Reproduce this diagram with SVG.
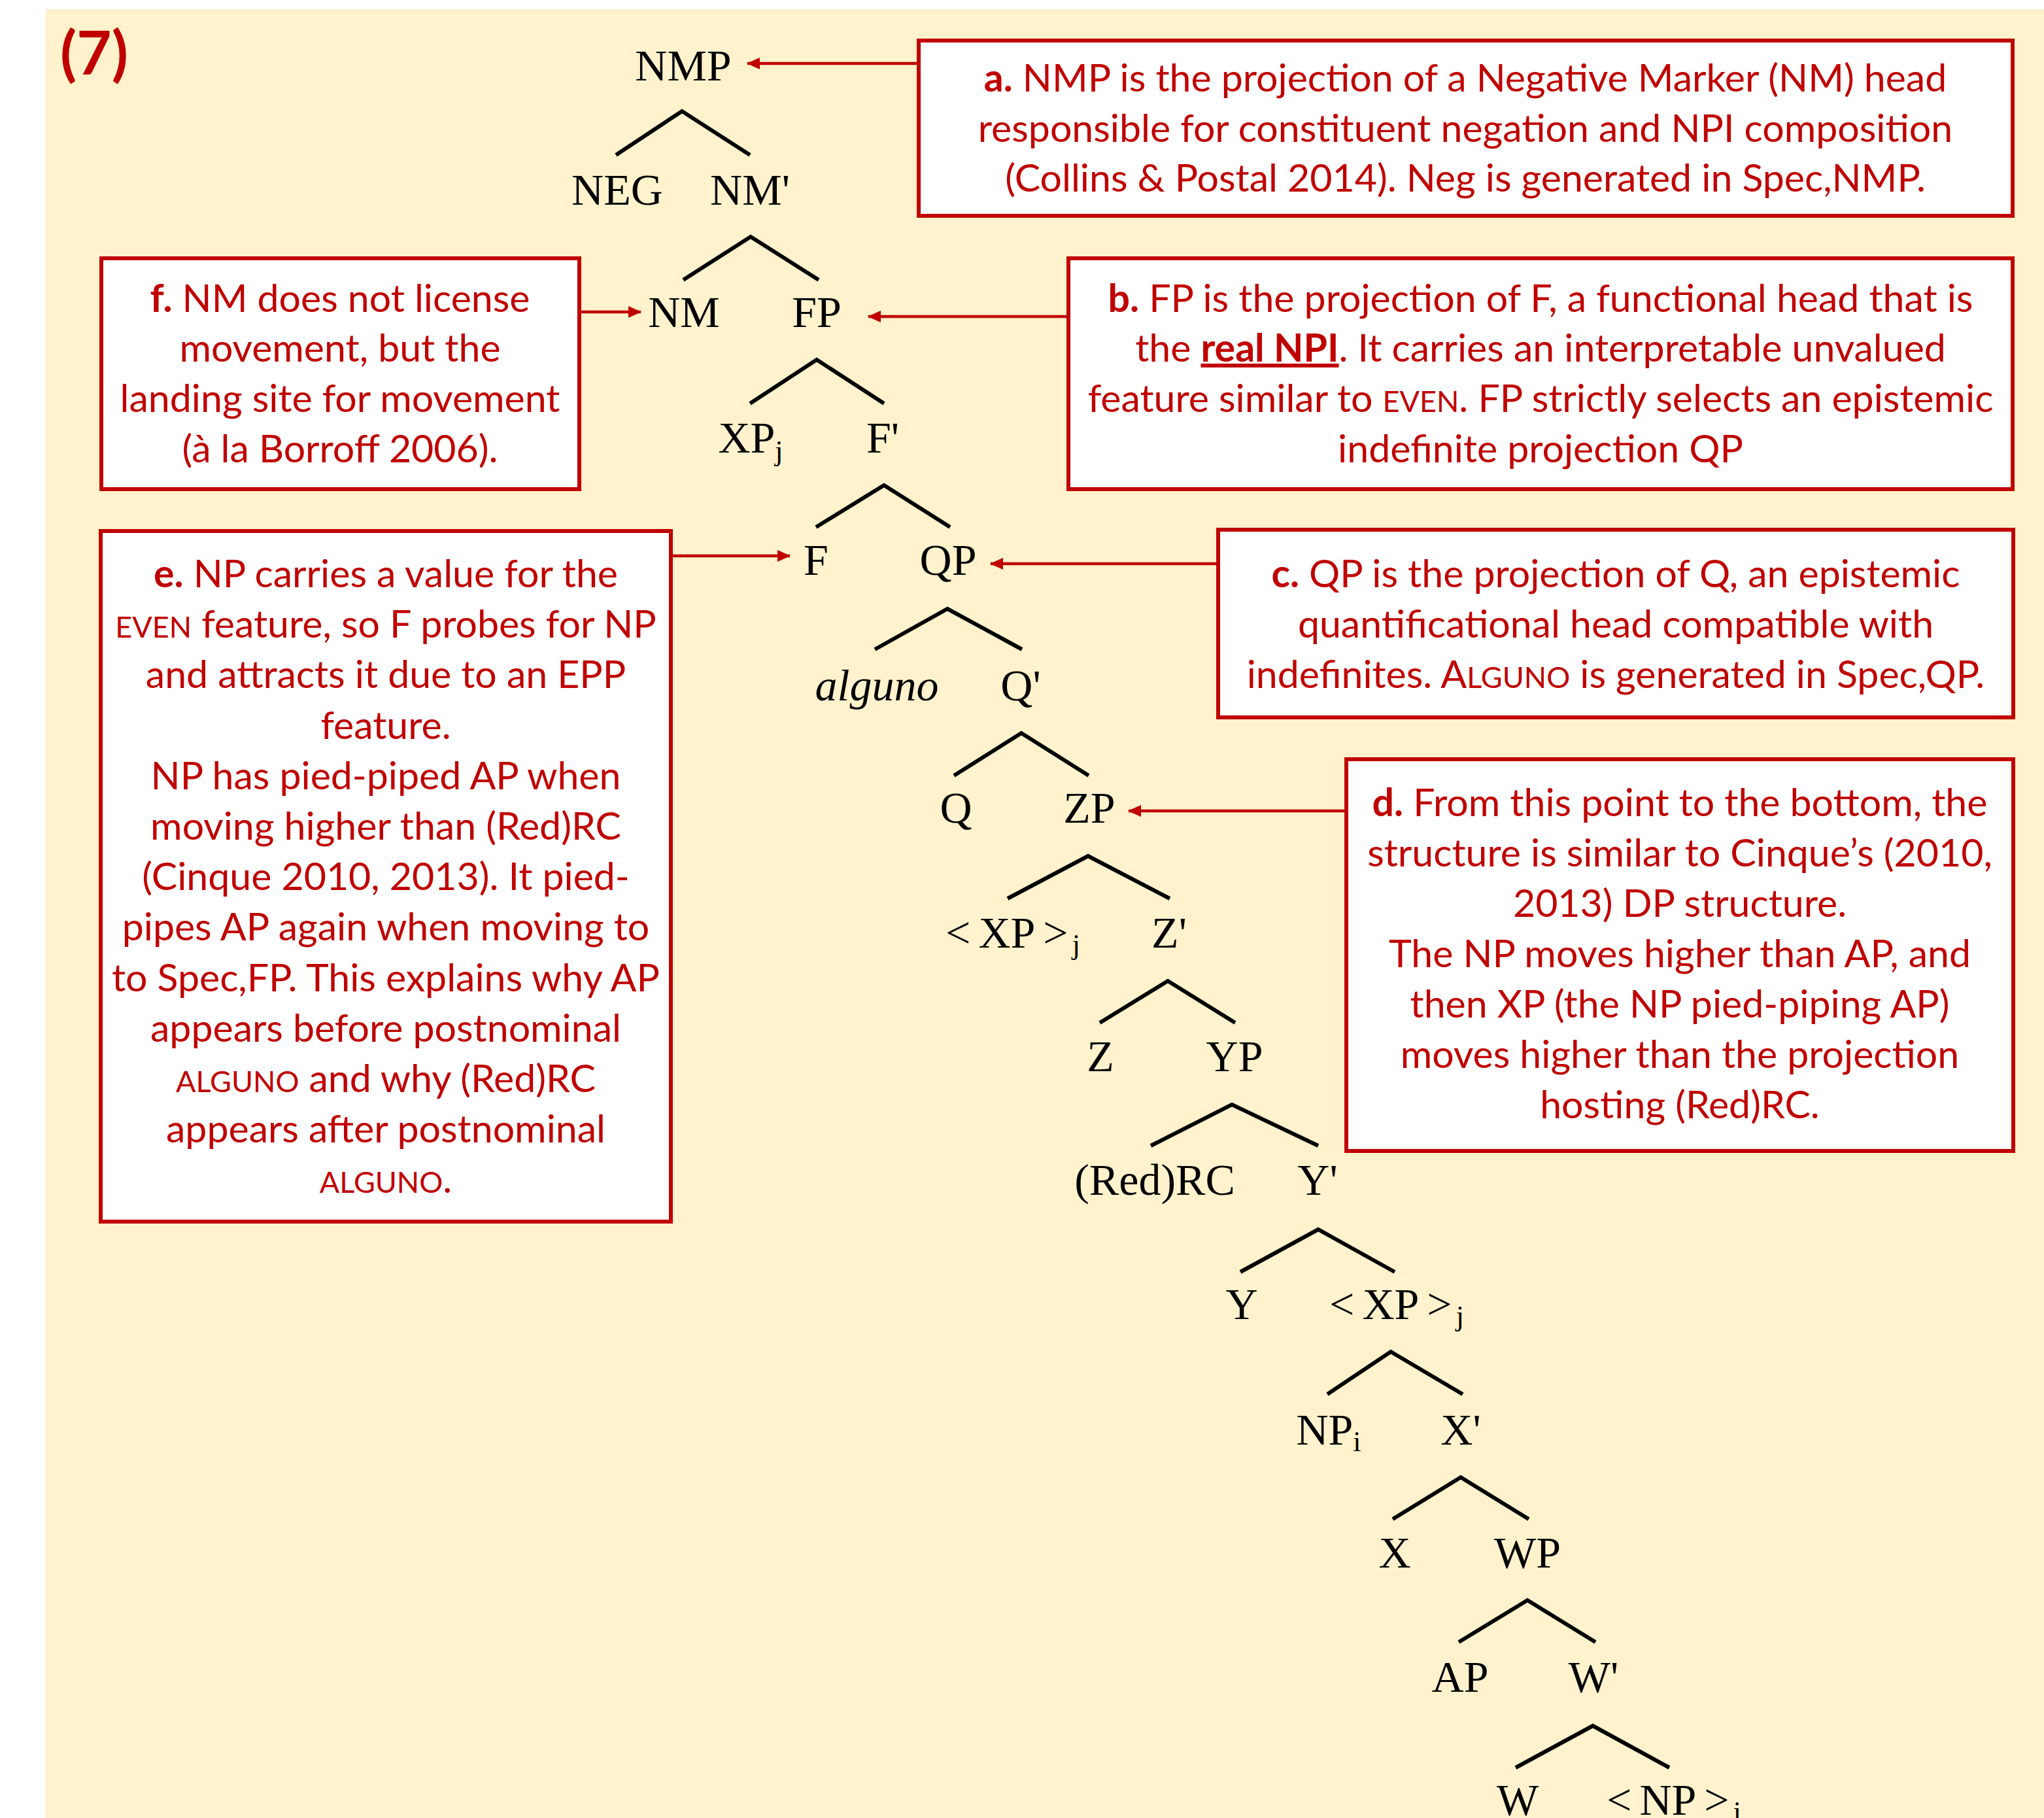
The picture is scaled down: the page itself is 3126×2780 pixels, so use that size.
<svg xmlns="http://www.w3.org/2000/svg" width="3126" height="2780" viewBox="0 0 3126 2780">
<defs>
<marker id="ah" markerUnits="userSpaceOnUse" markerWidth="20" markerHeight="18" refX="19" refY="9" orient="auto"><path d="M0,0 L20,9 L0,18 z" fill="#C00000"/></marker>
<style>
.box{fill:#ffffff;stroke:#C00000;stroke-width:6}
.t{font-family:Lato,"Open Sans",sans-serif;font-size:59px;fill:#C00000;text-anchor:middle}
.b{font-weight:bold}
.sc{font-size:45px}
.tree{font-family:"Liberation Serif","Times New Roman",serif;font-size:68px;fill:#000000;text-anchor:middle}
.it{font-style:italic}
.sub{font-size:44px}
.edge{stroke:#000000;stroke-width:6;fill:none}
.arr{stroke:#C00000;stroke-width:4.5;fill:none;marker-end:url(#ah)}
</style>
</defs>
<rect x="0" y="0" width="3126" height="2780" fill="#ffffff"/>
<rect x="70" y="14" width="3056" height="2766" fill="#FFF2CC"/>
<text x="144" y="114" style="font-family:Lato,sans-serif;font-weight:bold;font-size:92px;fill:#C00000;text-anchor:middle">(7)</text>

<g id="tree-edges">
<path class="edge" d="M942,237 L1043,170 L1147,237"/>
<path class="edge" d="M1045,428 L1148,362 L1252,428"/>
<path class="edge" d="M1147,617 L1249,550 L1352,617"/>
<path class="edge" d="M1248,806 L1352,742 L1453,806"/>
<path class="edge" d="M1338,993 L1449,931 L1563,993"/>
<path class="edge" d="M1459,1186 L1562,1121 L1665,1186"/>
<path class="edge" d="M1541,1374 L1664,1309 L1789,1374"/>
<path class="edge" d="M1682,1564 L1786,1500 L1889,1564"/>
<path class="edge" d="M1760,1752 L1884,1689 L2016,1752"/>
<path class="edge" d="M1897,1945 L2016,1880 L2133,1945"/>
<path class="edge" d="M2030,2132 L2127,2067 L2237,2132"/>
<path class="edge" d="M2130,2323 L2234,2259 L2338,2323"/>
<path class="edge" d="M2231,2511 L2336,2447 L2440,2511"/>
<path class="edge" d="M2318,2703 L2436,2639 L2553,2703"/>
</g>

<g id="n-NMP"><text class="tree" x="1045" y="123">NMP</text></g>
<g id="n-NEG"><text class="tree" x="944" y="313">NEG</text></g>
<g id="n-NMbar"><text class="tree" x="1147" y="313">NM'</text></g>
<g id="n-NM"><text class="tree" x="1046" y="500">NM</text></g>
<g id="n-FP"><text class="tree" x="1249" y="500">FP</text></g>
<g id="n-XPj"><text class="tree" x="1148" y="692">XP<tspan class="sub" dy="12">j</tspan></text></g>
<g id="n-Fbar"><text class="tree" x="1350" y="692">F'</text></g>
<g id="n-F"><text class="tree" x="1248" y="879">F</text></g>
<g id="n-QP"><text class="tree" x="1450" y="879">QP</text></g>
<g id="n-alguno"><text class="tree it" x="1341" y="1071">alguno</text></g>
<g id="n-Qbar"><text class="tree" x="1561" y="1071">Q'</text></g>
<g id="n-Q"><text class="tree" x="1462" y="1258">Q</text></g>
<g id="n-ZP"><text class="tree" x="1666" y="1258">ZP</text></g>
<g id="n-XPtrace1"><text class="tree" x="1549" y="1449">&lt;<tspan dx="12">XP</tspan><tspan dx="12">&gt;</tspan><tspan class="sub" dx="6" dy="10">j</tspan></text></g>
<g id="n-Zbar"><text class="tree" x="1788" y="1449">Z'</text></g>
<g id="n-Z"><text class="tree" x="1683" y="1638">Z</text></g>
<g id="n-YP"><text class="tree" x="1888" y="1638">YP</text></g>
<g id="n-RedRC"><text class="tree" x="1766" y="1827">(Red)RC</text></g>
<g id="n-Ybar"><text class="tree" x="2015" y="1827">Y'</text></g>
<g id="n-Y"><text class="tree" x="1899" y="2017">Y</text></g>
<g id="n-XPtrace2"><text class="tree" x="2136" y="2017">&lt;<tspan dx="12">XP</tspan><tspan dx="12">&gt;</tspan><tspan class="sub" dx="6" dy="10">j</tspan></text></g>
<g id="n-NPi"><text class="tree" x="2032" y="2209">NP<tspan class="sub" dy="10">i</tspan></text></g>
<g id="n-Xbar"><text class="tree" x="2234" y="2209">X'</text></g>
<g id="n-X"><text class="tree" x="2133" y="2397">X</text></g>
<g id="n-WP"><text class="tree" x="2336" y="2397">WP</text></g>
<g id="n-AP"><text class="tree" x="2233" y="2587">AP</text></g>
<g id="n-Wbar"><text class="tree" x="2437" y="2587">W'</text></g>
<g id="n-W"><text class="tree" x="2321" y="2775">W</text></g>
<g id="n-NPtrace"><text class="tree" x="2560" y="2775">&lt;<tspan dx="12">NP</tspan><tspan dx="12">&gt;</tspan><tspan class="sub" dx="6" dy="10">i</tspan></text></g>

<g id="box-a">
<rect class="box" x="1405" y="62" width="1673" height="268"/>
<text class="t" x="2241" y="140"><tspan class="b">a.</tspan> NMP is the projection of a Negative Marker (NM) head</text>
<text class="t" x="2241" y="217">responsible for constituent negation and NPI composition</text>
<text class="t" x="2241" y="293">(Collins &amp; Postal 2014). Neg is generated in Spec,NMP.</text>
</g>
<g id="box-f">
<rect class="box" x="155" y="395" width="731" height="353"/>
<text class="t" x="520" y="477"><tspan class="b">f.</tspan> NM does not license</text>
<text class="t" x="520" y="553">movement, but the</text>
<text class="t" x="520" y="630">landing site for movement</text>
<text class="t" x="520" y="707">(à la Borroff 2006).</text>
</g>
<g id="box-b">
<rect class="box" x="1634" y="395" width="1444" height="353"/>
<text class="t" x="2356" y="477"><tspan class="b">b.</tspan> FP is the projection of F, a functional head that is</text>
<text class="t" x="2356" y="553">the <tspan class="b" text-decoration="underline">real NPI</tspan>. It carries an interpretable unvalued</text>
<text class="t" x="2356" y="630">feature similar to <tspan class="sc">EVEN</tspan>. FP strictly selects an epistemic</text>
<text class="t" x="2356" y="707">indefinite projection QP</text>
</g>
<g id="box-c">
<rect class="box" x="1863" y="810" width="1216" height="287"/>
<text class="t" x="2471" y="898"><tspan class="b">c.</tspan> QP is the projection of Q, an epistemic</text>
<text class="t" x="2471" y="975">quantificational head compatible with</text>
<text class="t" x="2471" y="1052">indefinites. A<tspan class="sc">LGUNO</tspan> is generated in Spec,QP.</text>
</g>
<g id="box-e">
<rect class="box" x="154" y="812" width="872" height="1056"/>
<text class="t" x="590" y="898"><tspan class="b">e.</tspan> NP carries a value for the</text>
<text class="t" x="590" y="975"><tspan class="sc">EVEN</tspan> feature, so F probes for NP</text>
<text class="t" x="590" y="1052">and attracts it due to an EPP</text>
<text class="t" x="590" y="1130">feature.</text>
<text class="t" x="590" y="1207">NP has pied-piped AP when</text>
<text class="t" x="590" y="1284">moving higher than (Red)RC</text>
<text class="t" x="590" y="1361">(Cinque 2010, 2013). It pied-</text>
<text class="t" x="590" y="1438">pipes AP again when moving to</text>
<text class="t" x="590" y="1516">to Spec,FP. This explains why AP</text>
<text class="t" x="590" y="1593">appears before postnominal</text>
<text class="t" x="590" y="1670"><tspan class="sc">ALGUNO</tspan> and why (Red)RC</text>
<text class="t" x="590" y="1747">appears after postnominal</text>
<text class="t" x="590" y="1824"><tspan class="sc">ALGUNO</tspan>.</text>
</g>
<g id="box-d">
<rect class="box" x="2059" y="1161" width="1020" height="599"/>
<text class="t" x="2569" y="1248"><tspan class="b">d.</tspan> From this point to the bottom, the</text>
<text class="t" x="2569" y="1325">structure is similar to Cinque’s (2010,</text>
<text class="t" x="2569" y="1402">2013) DP structure.</text>
<text class="t" x="2569" y="1479">The NP moves higher than AP, and</text>
<text class="t" x="2569" y="1556">then XP (the NP pied-piping AP)</text>
<text class="t" x="2569" y="1633">moves higher than the projection</text>
<text class="t" x="2569" y="1710">hosting (Red)RC.</text>
</g>

<g id="connectors">
<path class="arr" d="M1405,97 H1143"/>
<path class="arr" d="M886,477 H980"/>
<path class="arr" d="M1634,484 H1328"/>
<path class="arr" d="M1026,850 H1208"/>
<path class="arr" d="M1863,862 H1515"/>
<path class="arr" d="M2059,1240 H1726"/>
</g>
</svg>
